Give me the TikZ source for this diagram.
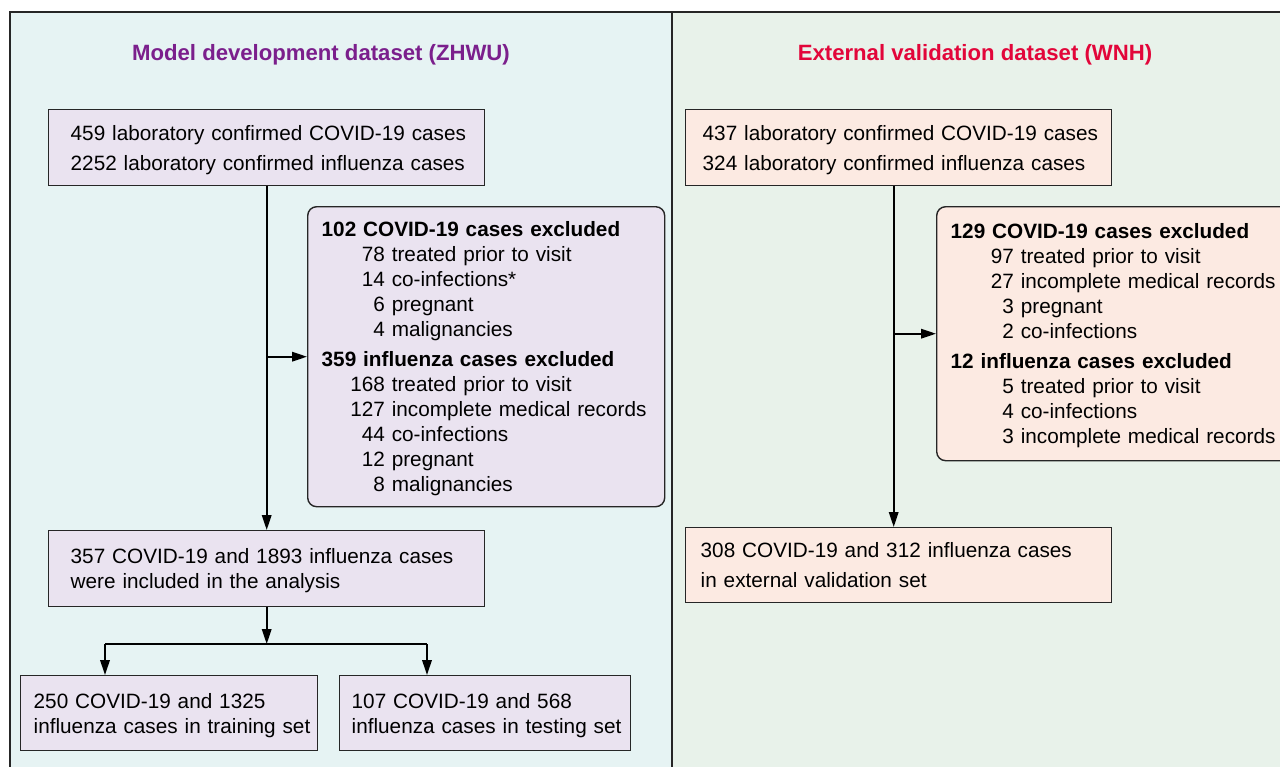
\documentclass[tikz,border=0pt]{standalone}
\usepackage{fontspec}
\setmainfont{Liberation Sans}
\usepackage[HTML]{xcolor}
\usetikzlibrary{positioning, arrows.meta, calc}

\definecolor{devbg}{HTML}{E6F3F3}
\definecolor{valbg}{HTML}{E8F2EA}
\definecolor{devfill}{HTML}{EAE3F0}
\definecolor{valfill}{HTML}{FCEAE2}
\definecolor{devtitle}{HTML}{7B1F8C}
\definecolor{valtitle}{HTML}{E2063A}

\newcommand{\boxfont}{\fontsize{11.8}{14.2}\selectfont}
\newcommand{\exclrow}[2]{\makebox[1.264cm][r]{#1}\ #2}
% text block indented from the left edge of its box
\newcommand{\boxlines}[2]{\raisebox{-0.05cm}[\height][\depth]{\begin{tabular}{@{\hspace{#1}}l@{}}#2\end{tabular}}}

\tikzset{
  flowbox/.style={draw=black!85, line width=0.8pt, anchor=north west, align=left,
    font=\boxfont, inner xsep=0pt, inner ysep=2pt},
  devnode/.style={flowbox, fill=devfill},
  valnode/.style={flowbox, fill=valfill},
  exclnode/.style={rounded corners=1.8mm},
  arr/.style={line width=1.1pt, -{Triangle[length=3mm,width=1.9mm]}},
  link/.style={line width=1.1pt},
  paneltitle/.style={font=\fontsize{12.6}{15}\selectfont\bfseries}
}

\begin{document}
\begin{tikzpicture}
\useasboundingbox (0,0) rectangle (25.6,-15.32);

% Panels
\fill[devbg] (0.2,-0.24) rectangle (13.44,-16);
\fill[valbg] (13.44,-0.24) rectangle (26.5,-16);
\draw[line width=0.8pt, black!85] (0.2,-16) -- (0.2,-0.24) -- (26.5,-0.24);
\draw[line width=0.8pt, black!85] (13.44,-0.24) -- (13.44,-16);

\node[paneltitle, text=devtitle] (devtitle) at (6.42,-1.1) {Model development dataset (ZHWU)};
\node[paneltitle, text=valtitle] (valtitle) at (19.5,-1.1) {External validation dataset (WNH)};

% Model development side
\node[devnode, text width=8.72cm, minimum height=1.52cm] (inc1) at (0.96,-2.18)
  {\boxlines{0.44cm}{459 laboratory confirmed COVID-19 cases\\[2.8pt]
   2252 laboratory confirmed influenza cases}};

\node[devnode, exclnode, text width=7.14cm, minimum height=6cm] (excl1) at (6.14,-4.12)
  {\boxlines{0.28cm}{\textbf{102 COVID-19 cases excluded}\\
   \exclrow{78}{treated prior to visit}\\
   \exclrow{14}{co-infections*}\\
   \exclrow{6}{pregnant}\\
   \exclrow{4}{malignancies}\\[2.8pt]
   \textbf{359 influenza cases excluded}\\
   \exclrow{168}{treated prior to visit}\\
   \exclrow{127}{incomplete medical records}\\
   \exclrow{44}{co-infections}\\
   \exclrow{12}{pregnant}\\
   \exclrow{8}{malignancies}}};

\node[devnode, text width=8.72cm, minimum height=1.52cm] (inc2) at (0.96,-10.6)
  {\boxlines{0.44cm}{357 COVID-19 and 1893 influenza cases\\
   were included in the analysis}};

\node[devnode, text width=5.94cm, minimum height=1.5cm] (train) at (0.4,-13.5)
  {\boxlines{0.26cm}{250 COVID-19 and 1325\\
   influenza cases in training set}};

\node[devnode, text width=5.82cm, minimum height=1.5cm] (test) at (6.78,-13.5)
  {\boxlines{0.24cm}{107 COVID-19 and 568\\
   influenza cases in testing set}};

\draw[arr] (inc1.south) -- (inc2.north);
\draw[arr] (inc1.south |- excl1.west) -- (excl1.west);

\coordinate (splitL) at (2.1,-12.88);
\coordinate (splitR) at (8.54,-12.88);
\draw[arr] (inc2.south) -- (inc2.south |- splitL);
\draw[link] (splitL) -- (splitR);
\draw[arr] (splitL) -- (splitL |- train.north);
\draw[arr] (splitR) -- (splitR |- test.north);

% External validation side
\node[valnode, text width=8.52cm, minimum height=1.52cm] (inc3) at (13.7,-2.18)
  {\boxlines{0.34cm}{437 laboratory confirmed COVID-19 cases\\[2.8pt]
   324 laboratory confirmed influenza cases}};

\node[valnode, exclnode, text width=7.1cm, minimum height=5.08cm] (excl2) at (18.72,-4.12)
  {\boxlines{0.28cm}{\textbf{129 COVID-19 cases excluded}\\
   \exclrow{97}{treated prior to visit}\\
   \exclrow{27}{incomplete medical records}\\
   \exclrow{3}{pregnant}\\
   \exclrow{2}{co-infections}\\[2.8pt]
   \textbf{12 influenza cases excluded}\\
   \exclrow{5}{treated prior to visit}\\
   \exclrow{4}{co-infections}\\
   \exclrow{3}{incomplete medical records}}};

\node[valnode, text width=8.52cm, minimum height=1.5cm] (inc4) at (13.7,-10.54)
  {\boxlines{0.3cm}{308 COVID-19 and 312 influenza cases\\[2.8pt]
   in external validation set}};

\draw[arr] ([xshift=-0.1cm]inc3.south) -- ([xshift=-0.1cm]inc4.north);
\draw[arr] ([xshift=-0.1cm]inc3.south |- excl2.west) -- (excl2.west);

\end{tikzpicture}
\end{document}
